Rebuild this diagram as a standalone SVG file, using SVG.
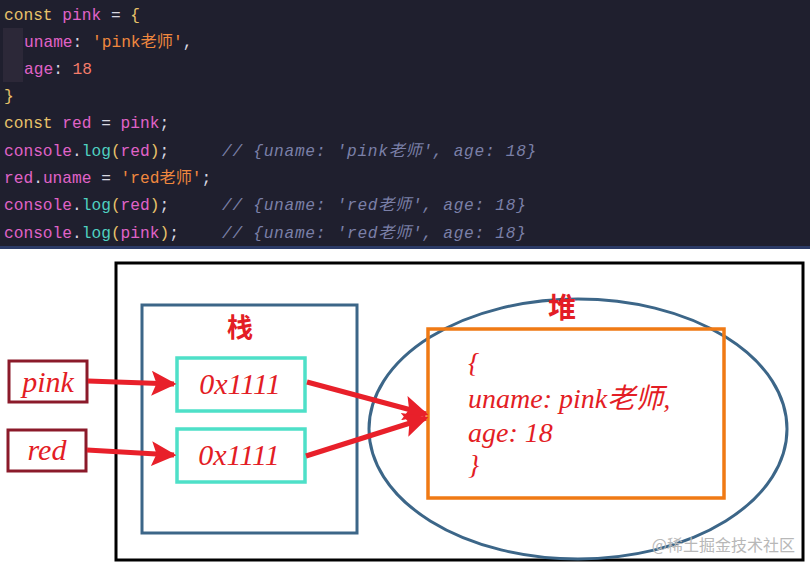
<svg xmlns="http://www.w3.org/2000/svg" width="810" height="570" viewBox="0 0 810 570">
<style>
.c{font-family:"Liberation Mono","DejaVu Sans Mono","Noto Sans CJK SC",monospace;font-size:16.2px;fill:#e063c8;white-space:pre}
.k{fill:#e8c26a}.s{fill:#f0883e}.n{fill:#f47c6a}.f{fill:#4fd1c0}.p{fill:#e8c26a}.w{fill:#d8d8e0}
.cm{fill:#7b80a8;font-style:italic;letter-spacing:0.7px}
.h{font-family:"Liberation Serif","Noto Sans CJK SC",serif;font-style:italic;fill:#e31d25}
.zh{font-family:"Noto Sans CJK SC",sans-serif;font-weight:bold;fill:#e31d25}
</style>
<defs><marker id="a" markerWidth="5" markerHeight="5" refX="4.5" refY="2.5" orient="auto" markerUnits="strokeWidth"><path d="M0,0L5,2.5L0,5L1,2.5Z" fill="#e8202a"/></marker></defs>
<rect width="810" height="250" fill="#1f1f2e"/>
<rect x="0" y="246" width="810" height="3" fill="#2b3a66"/>
<rect x="3" y="28" width="20" height="54" fill="#2c2838"/>
<g class="c">
<text x="4" y="20"><tspan class="k">const</tspan> pink <tspan class="w">=</tspan> <tspan class="k">{</tspan></text>
<text x="24" y="47">uname<tspan class="w">:</tspan> <tspan class="s">'pink老师'</tspan><tspan class="w">,</tspan></text>
<text x="24" y="74">age<tspan class="w">:</tspan> <tspan class="n">18</tspan></text>
<text x="4" y="101"><tspan class="k">}</tspan></text>
<text x="4" y="128"><tspan class="k">const</tspan> red <tspan class="w">=</tspan> pink<tspan class="w">;</tspan></text>
<text x="4" y="156">console<tspan class="w">.</tspan><tspan class="f">log</tspan><tspan class="p">(</tspan>red<tspan class="p">)</tspan><tspan class="w">;</tspan></text>
<text x="222" y="156" class="cm">// {uname: 'pink老师', age: 18}</text>
<text x="4" y="183">red<tspan class="w">.</tspan>uname <tspan class="w">=</tspan> <tspan class="s">'red老师'</tspan><tspan class="w">;</tspan></text>
<text x="4" y="210">console<tspan class="w">.</tspan><tspan class="f">log</tspan><tspan class="p">(</tspan>red<tspan class="p">)</tspan><tspan class="w">;</tspan></text>
<text x="222" y="210" class="cm">// {uname: 'red老师', age: 18}</text>
<text x="4" y="238">console<tspan class="w">.</tspan><tspan class="f">log</tspan><tspan class="p">(</tspan>pink<tspan class="p">)</tspan><tspan class="w">;</tspan></text>
<text x="222" y="238" class="cm">// {uname: 'red老师', age: 18}</text>
</g>
<rect x="0" y="249" width="810" height="321" fill="#fff"/>
<rect id="outer" x="116" y="263" width="687" height="297" fill="none" stroke="#000" stroke-width="3"/>
<g id="stack"><rect x="142" y="305" width="215" height="228" fill="none" stroke="#3c6688" stroke-width="3"/><text x="240" y="337" class="zh" font-size="26" text-anchor="middle">栈</text></g>
<g id="heap"><ellipse cx="578" cy="429" rx="209" ry="130" fill="none" stroke="#3c6688" stroke-width="3"/><text x="562" y="318" class="zh" font-size="28" text-anchor="middle">堆</text>
<rect x="428" y="329" width="296" height="169" fill="none" stroke="#f07a14" stroke-width="3.5"/>
<g class="h" font-size="28"><text x="468" y="372">{</text><text x="468" y="408">uname: pink老师,</text><text x="468" y="442">age: 18</text><text x="468" y="474">}</text></g></g>
<g id="pink"><rect x="9" y="361" width="78" height="41" fill="#fff" stroke="#8b1a2a" stroke-width="3"/><text x="48" y="392" class="h" font-size="30" text-anchor="middle">pink</text></g>
<g id="red"><rect x="8" y="430" width="78" height="41" fill="#fff" stroke="#8b1a2a" stroke-width="3"/><text x="47" y="460" class="h" font-size="30" text-anchor="middle">red</text></g>
<g id="addr1"><rect x="177" y="358" width="128" height="53" fill="#fff" stroke="#4ee0c8" stroke-width="3.5"/><text x="240" y="394" class="h" font-size="30" text-anchor="middle">0x1111</text></g>
<g id="addr2"><rect x="177" y="429" width="128" height="53" fill="#fff" stroke="#4ee0c8" stroke-width="3.5"/><text x="239" y="465" class="h" font-size="30" text-anchor="middle">0x1111</text></g>
<g id="connectors" stroke="#e8202a" stroke-width="5" fill="none" marker-end="url(#a)">
<line x1="88" y1="381" x2="174" y2="384"/>
<line x1="87" y1="450" x2="174" y2="455"/>
<line x1="307" y1="382" x2="426" y2="414"/>
<line x1="306" y1="456" x2="426" y2="418"/>
</g>
<text x="795" y="551" font-family="Noto Sans CJK SC,sans-serif" font-size="16" fill="#b8b8b8" text-anchor="end">@稀土掘金技术社区</text>
</svg>
